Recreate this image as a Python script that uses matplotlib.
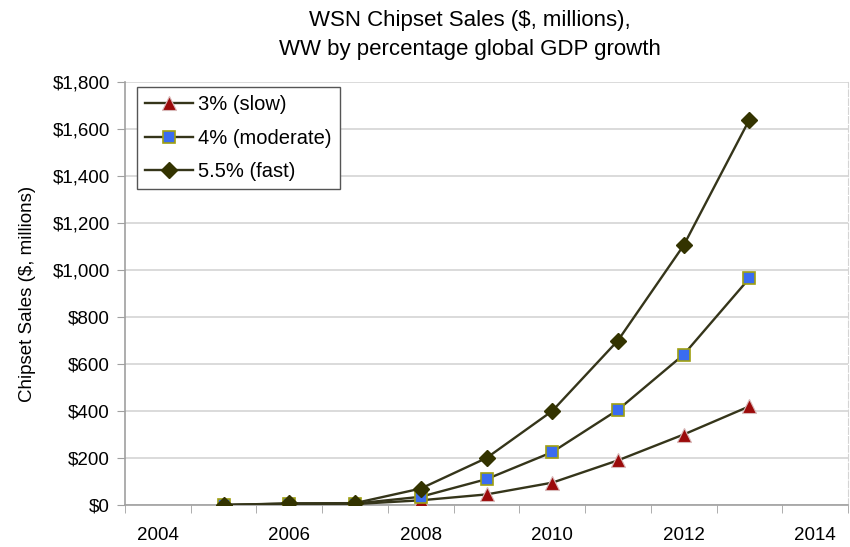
import numpy as np
import matplotlib.pyplot as plt
from matplotlib.ticker import FuncFormatter, MultipleLocator

# ---- data ----
years = [2005, 2006, 2007, 2008, 2009, 2010, 2011, 2012, 2013]
slow = [0, 4, 4, 20, 45, 95, 190, 300, 420]          # 3% (slow)
moderate = [0, 6, 6, 35, 110, 225, 405, 640, 965]    # 4% (moderate)
fast = [0, 7, 8, 70, 200, 400, 700, 1105, 1640]      # 5.5% (fast)

labels = ['3% (slow)', '4% (moderate)', '5.5% (fast)']
x_labels = [2004, 2006, 2008, 2010, 2012, 2014]

line_col = '#35351a'
plt.rcParams['font.family'] = ['Liberation Sans', 'DejaVu Sans']

fig = plt.figure(figsize=(8.5, 5.47), dpi=100)
ax = fig.add_axes([125 / 850, 1 - 505 / 547, 723 / 850, 423 / 547])

ax.plot(years, slow, color=line_col, lw=1.7, marker='^', ms=10.5,
        mfc='#9b0a0a', mec='#d8b8b8', mew=0.8, label=labels[0], zorder=3)
ax.plot(years, moderate, color=line_col, lw=1.7, marker='s', ms=8,
        mfc='#3a6cf0', mec='#a0a010', mew=1.2, label=labels[1], zorder=4)
ax.plot(years, fast, color=line_col, lw=1.7, marker='D', ms=8,
        mfc='#333300', mec='#333300', mew=1, label=labels[2], zorder=5)

ax.set_xlim(2003.5, 2014.5)
ax.set_ylim(0, 1800)

ax.set_xticks(x_labels)
ax.set_xticklabels([str(y) for y in x_labels])
ax.set_xticks(np.arange(2003.5, 2015, 1), minor=True)
ax.tick_params(axis='x', which='major', length=0, pad=16, labelsize=13.5)
ax.tick_params(axis='x', which='minor', length=6, color='#a0a0a0', direction='out')

ax.yaxis.set_major_locator(MultipleLocator(200))
ax.yaxis.set_major_formatter(FuncFormatter(lambda v, p: '${:,.0f}'.format(v)))
ax.tick_params(axis='y', length=6, color='#a0a0a0', labelsize=13.5, pad=5)

ax.grid(axis='y', color='#d4d4d4', lw=1.2)
ax.set_axisbelow(True)

for s in ['left', 'bottom']:
    ax.spines[s].set_color('#a0a0a0')
    ax.spines[s].set_linewidth(1.2)
ax.spines['top'].set_visible(False)
ax.spines['right'].set_color('#d4d4d4')
ax.spines['right'].set_linestyle((0, (6, 2)))

ax.set_ylabel('Chipset Sales ($, millions)', fontsize=13.5, labelpad=12)

leg = ax.legend(loc='upper left', bbox_to_anchor=(0.0166, 0.988), fontsize=14.5,
                handlelength=2.4, handletextpad=0.25, borderpad=0.4,
                labelspacing=0.72, borderaxespad=0, fancybox=False,
                edgecolor='#555555', framealpha=1)
leg.get_frame().set_linewidth(1.0)

fig.text(470 / 850, 1 - 35 / 547,
         'WSN Chipset Sales ($, millions),\nWW by percentage global GDP growth',
         ha='center', va='center', fontsize=16, linespacing=1.45)

fig.savefig('out.png', dpi=100)
